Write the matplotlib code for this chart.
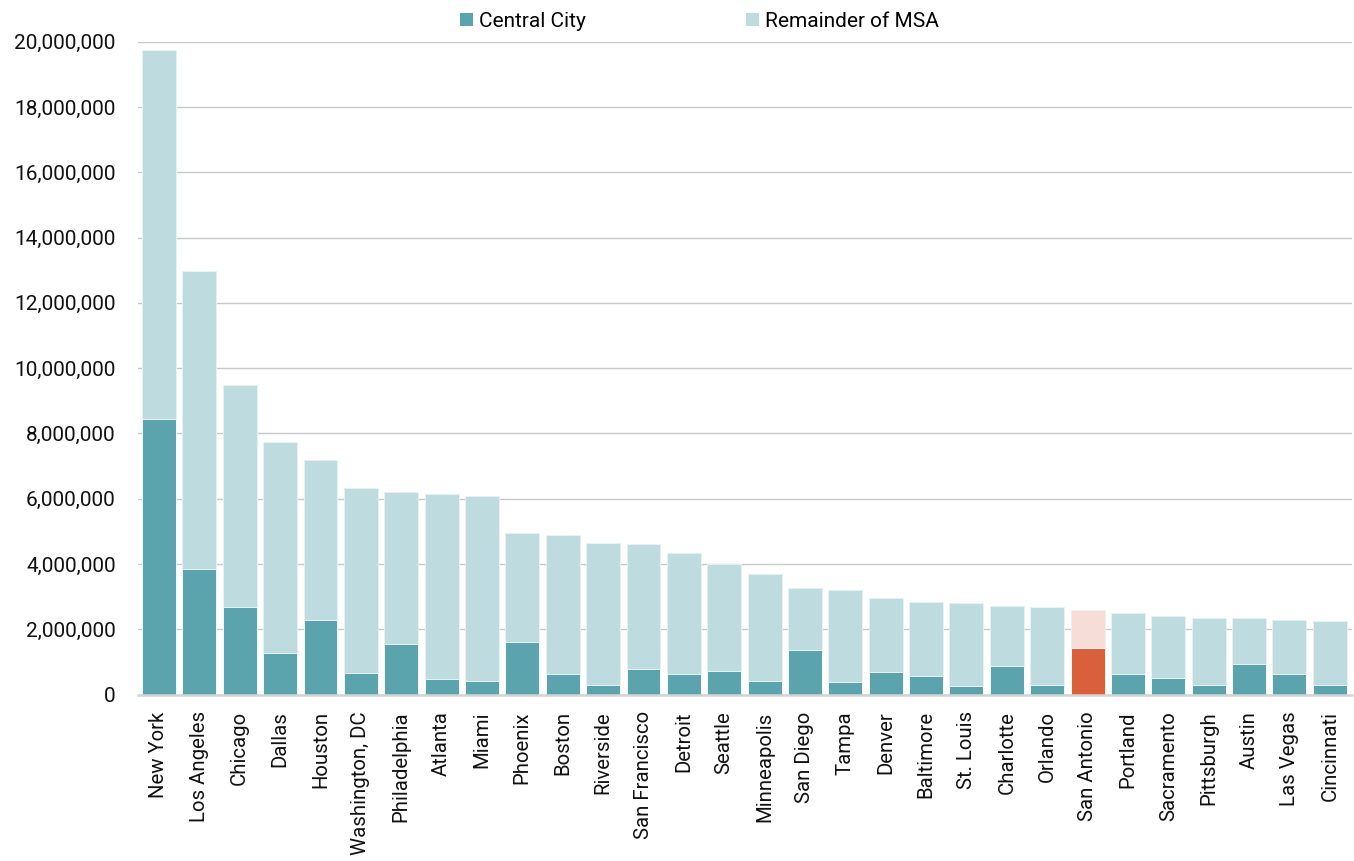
import matplotlib
matplotlib.use("Agg")
import matplotlib.pyplot as plt
from matplotlib.patches import Patch
from matplotlib.ticker import FuncFormatter

plt.rcParams['font.family'] = ['Roboto', 'DejaVu Sans']

# Metropolitan areas ranked by total MSA population
cities = ["New York", "Los Angeles", "Chicago", "Dallas", "Houston",
          "Washington, DC", "Philadelphia", "Atlanta", "Miami", "Phoenix",
          "Boston", "Riverside", "San Francisco", "Detroit", "Seattle",
          "Minneapolis", "San Diego", "Tampa", "Denver", "Baltimore",
          "St. Louis", "Charlotte", "Orlando", "San Antonio", "Portland",
          "Sacramento", "Pittsburgh", "Austin", "Las Vegas", "Cincinnati"]

# Population of the central city
central_city = [8440000, 3840000, 2680000, 1280000, 2280000,
                650000, 1560000, 480000, 430000, 1610000,
                640000, 300000, 790000, 620000, 720000,
                420000, 1370000, 380000, 690000, 560000,
                270000, 870000, 290000, 1430000, 630000,
                510000, 290000, 940000, 630000, 290000]

# Total MSA population
msa_total = [19730000, 12970000, 9490000, 7750000, 7190000,
             6340000, 6210000, 6130000, 6070000, 4940000,
             4890000, 4640000, 4610000, 4350000, 4000000,
             3680000, 3270000, 3200000, 2960000, 2830000,
             2800000, 2700000, 2670000, 2590000, 2500000,
             2400000, 2340000, 2340000, 2280000, 2250000]

highlight = "San Antonio"

remainder = [t - c for t, c in zip(msa_total, central_city)]

teal_dark = "#5BA4AE"
teal_light = "#BEDBDF"
orange_dark = "#D9603A"
orange_light = "#F7DDD7"

fig = plt.figure(figsize=(13.54, 8.61), dpi=100)
ax = fig.add_axes([138 / 1354, 1 - 694.6 / 861, (1352 - 138) / 1354, (694.6 - 41.6) / 861])

x = list(range(len(cities)))
dark_colors = [orange_dark if c == highlight else teal_dark for c in cities]
light_colors = [orange_light if c == highlight else teal_light for c in cities]

ax.bar(x, central_city, width=0.84, color=dark_colors, edgecolor="white",
       linewidth=0.6, zorder=3)
ax.bar(x, remainder, bottom=central_city, width=0.84, color=light_colors,
       edgecolor="#E8F2F3", linewidth=0.6, zorder=3)

ax.set_xlim(-0.52, len(cities) - 0.45)
ax.set_ylim(0, 20000000)
ax.set_yticks(range(0, 20000001, 2000000))
ax.yaxis.set_major_formatter(FuncFormatter(lambda v, p: f"{int(v):,}"))
ax.grid(axis="y", color="#C8C8C8", linewidth=1.0, zorder=0)
ax.set_axisbelow(True)

for s in ["top", "right", "left"]:
    ax.spines[s].set_visible(False)
ax.spines["bottom"].set_color("#D4D4D4")
ax.spines["bottom"].set_linewidth(1.8)
ax.spines["bottom"].set_zorder(4)

ax.set_xticks(x)
ax.set_xticklabels(cities, rotation=90, fontsize=14.7, color="#111111")
ax.tick_params(axis="x", length=0, pad=12)
ax.tick_params(axis="y", length=0, pad=16, labelsize=15, labelcolor="#111111")

handles = [Patch(facecolor=teal_dark, edgecolor="none", label="Central City"),
           Patch(facecolor=teal_light, edgecolor="none", label="Remainder of MSA")]
fig.legend(handles=handles, loc="center", bbox_to_anchor=(0.5166, 0.975), ncol=2,
           frameon=False, fontsize=15, handlelength=0.62, handleheight=0.62,
           handletextpad=0.3, columnspacing=7.7)

fig.savefig("out.png", dpi=100)
